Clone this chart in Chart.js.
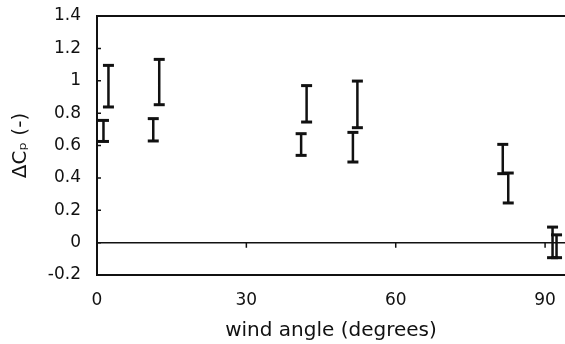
<!DOCTYPE html>
<html>
<head>
<meta charset="utf-8">
<script src="https://cdn.jsdelivr.net/npm/chart.js@4/dist/chart.umd.min.js"></script>
<style>
  html, body { margin: 0; padding: 0; background: #fff; }
  #wrap { width: 565px; height: 344px; }
</style>
</head>
<body>
<div id="wrap"><canvas id="c" width="565" height="344"></canvas></div>
<script>
// Wind angle (degrees) of each measurement range, with its lower and upper ΔCp bound
const windAngles = [1.3, 2.3, 11.3, 12.5, 41.0, 42.1, 51.4, 52.3, 81.5, 82.6, 91.5, 92.3];
const cpLow      = [0.625, 0.838, 0.628, 0.852, 0.539, 0.745, 0.498, 0.710, 0.426, 0.245, -0.093, -0.093];
const cpHigh     = [0.755, 1.095, 0.766, 1.132, 0.673, 0.970, 0.681, 0.998, 0.607, 0.430, 0.096, 0.048];
const xTicks = [0, 30, 60, 90];
const yTicks = [-0.2, 0, 0.2, 0.4, 0.6, 0.8, 1, 1.2, 1.4];

// Each range becomes a short vertical segment; a null point breaks the line between ranges
const barPoints = [];
windAngles.forEach((a, i) => {
  barPoints.push({ x: a, y: cpLow[i] }, { x: a, y: cpHigh[i] }, { x: a, y: null });
});

const FONT = "'DejaVu Sans', Verdana, sans-serif";

// Open frame (left, top, bottom) plus small inner ticks, placed from the scales
const framePlugin = {
  id: 'frame',
  afterDraw(chart) {
    const { ctx, chartArea: a, scales } = chart;
    ctx.save();
    ctx.strokeStyle = '#111';
    ctx.lineWidth = 2;
    ctx.beginPath();
    ctx.moveTo(a.right + 2, a.top);
    ctx.lineTo(a.left, a.top);
    ctx.lineTo(a.left, a.bottom);
    ctx.lineTo(a.right + 2, a.bottom);
    ctx.stroke();
    ctx.lineWidth = 1.5;
    ctx.beginPath();
    yTicks.forEach(v => {
      const y = scales.y.getPixelForValue(v);
      ctx.moveTo(a.left, y);
      ctx.lineTo(a.left + 4, y);
    });
    const y0 = scales.y.getPixelForValue(0);
    xTicks.forEach(v => {
      const x = scales.x.getPixelForValue(v);
      ctx.moveTo(x, y0);
      ctx.lineTo(x, y0 + 5);
    });
    ctx.stroke();
    ctx.restore();
  }
};

new Chart(document.getElementById('c'), {
  type: 'line',
  data: {
    datasets: [{
      data: barPoints,
      borderColor: '#111',
      borderWidth: 2.5,
      spanGaps: false,
      clip: false,
      pointStyle: 'line',
      pointRadius: 5.5,
      pointHoverRadius: 5.5,
      pointBorderWidth: 3,
      pointBorderColor: '#111',
      pointBackgroundColor: '#111',
      tension: 0
    }]
  },
  options: {
    responsive: false,
    animation: false,
    events: [],
    layout: { autoPadding: false, padding: { top: 16, right: 0, bottom: 0, left: 0 } },
    plugins: { legend: { display: false }, tooltip: { enabled: false } },
    scales: {
      x: {
        type: 'linear',
        min: 0,
        max: 94,
        afterBuildTicks(scale) {
          scale.ticks = xTicks.map(v => ({ value: v }));
        },
        afterFit(scale) {
          scale.height = 69;
          scale.paddingLeft = 0;
          scale.paddingRight = 0;
        },
        ticks: {
          color: '#111',
          font: { family: FONT, size: 17 },
          padding: 15,
          maxRotation: 0,
          callback: v => String(v)
        },
        grid: { display: false, drawTicks: false },
        border: { display: false },
        title: {
          display: true,
          text: 'wind angle (degrees)',
          color: '#111',
          font: { family: FONT, size: 20 },
          padding: { top: 0, bottom: 1 }
        }
      },
      y: {
        min: -0.2,
        max: 1.4,
        afterBuildTicks(scale) {
          scale.ticks = yTicks.map(v => ({ value: v }));
        },
        afterFit(scale) {
          scale.width = 97;
          scale.paddingTop = 0;
          scale.paddingBottom = 0;
        },
        ticks: {
          color: '#111',
          font: { family: FONT, size: 17 },
          padding: 16,
          callback: v => String(Number(v.toFixed(1)))
        },
        grid: {
          drawTicks: false,
          lineWidth: 1.5,
          color: ctx => (ctx.tick && ctx.tick.value === 0 ? '#111' : 'rgba(0,0,0,0)')
        },
        border: { display: false },
        title: {
          display: true,
          text: 'ΔCₚ (-)',
          color: '#111',
          font: { family: FONT, size: 20 },
          padding: { top: 9, bottom: 0 }
        }
      }
    }
  },
  plugins: [framePlugin]
});
</script>
</body>
</html>
